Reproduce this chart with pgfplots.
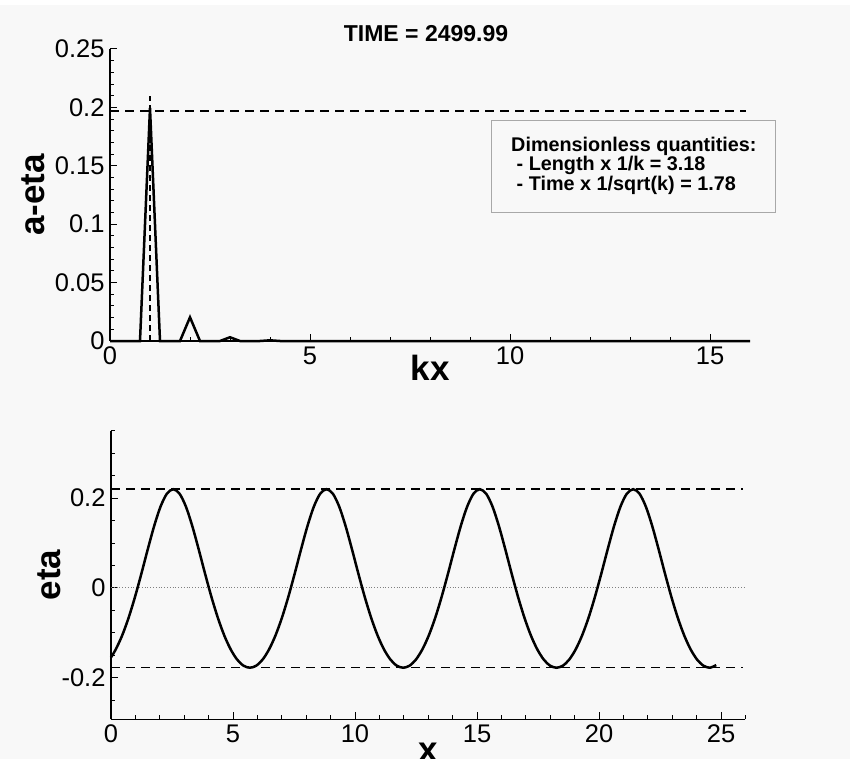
\documentclass[border=0pt]{standalone}
\usepackage{fontspec}
\setmainfont{Liberation Sans}
\usepackage{pgfplots}
\pgfplotsset{compat=1.18}
\definecolor{bg}{HTML}{F8F8F8}
\definecolor{boxgray}{HTML}{A8A8A8}

\pgfplotsset{tec/.style={
  scale only axis,
  axis x line=bottom, axis y line=left,
  axis line style={-, line width=1.6pt, black},
  tick align=inside,
  major tick length=7pt, minor tick length=4pt,
  every tick/.style={black, line width=1pt},
  minor tick num=4,
  tick label style={font=\fontsize{25.5}{27}\selectfont},
  xticklabel style={yshift=-2pt},
  yticklabel style={xshift=-2pt},
  /pgf/number format/assume math mode=true,
  scaled ticks=false,
  label style={font=\fontsize{35}{37}\selectfont\bfseries},
  clip=false,
}}

\begin{document}
\begin{tikzpicture}
\fill[white] (0pt,0pt) rectangle (850pt,-759pt);
\fill[bg] (0pt,-5pt) rectangle (850pt,-759pt);
\path[use as bounding box] (0pt,0pt) rectangle (850pt,-759pt);

% ---------- top: spectrum ----------
\begin{axis}[tec,
  at={(110pt,-341pt)}, anchor=south west,
  width=640pt, height=292pt,
  xmin=0, xmax=16, ymin=0, ymax=0.25,
  xtick={0,5,10,15}, xticklabels={0,5,10,15},
  ytick={0,0.05,0.1,0.15,0.2,0.25},
  yticklabels={0,0.05,0.1,0.15,0.2,0.25},
  xlabel={kx}, ylabel={a-eta},
  xlabel style={at={(axis description cs:0.5,-0.093)}, anchor=center},
  ylabel style={at={(axis description cs:-0.12,0.5)}, anchor=center},
]
\addplot[black, line width=1.5pt, dash pattern=on 9pt off 6pt] coordinates {(0,0.197) (15.9,0.197)};
\addplot[black, line width=1.5pt, dash pattern=on 6pt off 4pt] coordinates {(1.0,0) (1.0,0.21)};
\addplot[black, line width=2.5pt] coordinates {
(0,0) (0.25,0) (0.5,0) (0.75,0) (1.0,0.1995) (1.25,0) (1.5,0) (1.75,0)
(2.0,0.0203) (2.25,0) (2.5,0) (2.75,0) (3.0,0.0032) (3.25,0) (3.5,0) (3.75,0)
(4.0,0.0006) (4.25,0) (4.5,0) (5,0) (6,0) (8,0) (10,0) (12,0) (14,0) (16,0)};
\end{axis}

% ---------- bottom: surface elevation ----------
\begin{axis}[tec,
  at={(111pt,-719.3pt)}, anchor=south west,
  width=634.4pt, height=288.4pt,
  xmin=0, xmax=26, ymin=-0.293, ymax=0.35,
  xtick={0,5,10,15,20,25}, xticklabels={0,5,10,15,20,25},
  ytick={-0.2,0,0.2}, yticklabels={-0.2,0,0.2},
  minor ytick={-0.25,-0.15,-0.1,-0.05,0.05,0.1,0.15,0.25,0.3,0.35},
  minor xtick={1,2,3,4,6,7,8,9,11,12,13,14,16,17,18,19,21,22,23,24,26},
  xlabel={x}, ylabel={eta},
  xlabel style={at={(axis description cs:0.5,-0.113)}, anchor=center},
  ylabel style={at={(axis description cs:-0.0977,0.5)}, anchor=center},
]
\addplot[gray, line width=0.8pt, dotted] coordinates {(0,0) (26,0)};
\addplot[black, line width=1.5pt, dash pattern=on 9pt off 6pt] coordinates {(0,0.22) (25.9,0.22)};
\addplot[black, line width=1.5pt, dash pattern=on 9pt off 6pt] coordinates {(0,-0.178) (25.9,-0.178)};
\addplot[black, line width=2.5pt, smooth] coordinates {
(0,-0.155) (0.194,-0.1372) (0.456,-0.1063) (0.717,-0.0673) (0.979,-0.0210)
(1.241,0.0309) (1.503,0.0853) (1.765,0.1372) (2.026,0.1807) (2.288,0.2098)
(2.550,0.2200) (2.812,0.2098) (3.074,0.1807) (3.335,0.1372) (3.597,0.0853) (3.859,0.0309)
(4.121,-0.0210) (4.383,-0.0673) (4.644,-0.1063) (4.906,-0.1372) (5.168,-0.1597) (5.430,-0.1734)
(5.692,-0.1780) (5.953,-0.1734) (6.215,-0.1597) (6.477,-0.1372) (6.739,-0.1063) (7.001,-0.0673)
(7.262,-0.0210) (7.524,0.0309) (7.786,0.0853) (8.048,0.1372) (8.310,0.1807) (8.571,0.2098)
(8.833,0.2200) (9.095,0.2098) (9.357,0.1807) (9.618,0.1372) (9.880,0.0853) (10.142,0.0309)
(10.404,-0.0210) (10.666,-0.0673) (10.927,-0.1063) (11.189,-0.1372) (11.451,-0.1597) (11.713,-0.1734)
(11.975,-0.1780) (12.236,-0.1734) (12.498,-0.1597) (12.760,-0.1372) (13.022,-0.1063) (13.284,-0.0673)
(13.545,-0.0210) (13.807,0.0309) (14.069,0.0853) (14.331,0.1372) (14.593,0.1807) (14.854,0.2098)
(15.116,0.2200) (15.378,0.2098) (15.640,0.1807) (15.901,0.1372) (16.163,0.0853) (16.425,0.0309)
(16.687,-0.0210) (16.949,-0.0673) (17.210,-0.1063) (17.472,-0.1372) (17.734,-0.1597) (17.996,-0.1734)
(18.258,-0.1780) (18.519,-0.1734) (18.781,-0.1597) (19.043,-0.1372) (19.305,-0.1063) (19.567,-0.0673)
(19.828,-0.0210) (20.090,0.0309) (20.352,0.0853) (20.614,0.1372) (20.876,0.1807) (21.137,0.2098)
(21.400,0.2200) (21.662,0.2098) (21.924,0.1807) (22.185,0.1372) (22.447,0.0853) (22.709,0.0309)
(22.971,-0.0210) (23.233,-0.0673) (23.494,-0.1063) (23.756,-0.1372) (24.018,-0.1597) (24.280,-0.1734)
(24.542,-0.1780) (24.804,-0.1720)};
\end{axis}

% title
\node[font=\fontsize{23}{25}\selectfont\bfseries] at (426pt,-34pt) {TIME = 2499.99};

% info box
\draw[boxgray, line width=1pt, fill=bg] (491pt,-121pt) rectangle (775pt,-213pt);
\node[anchor=north west, inner sep=0pt, align=left,
      font=\fontsize{19.8}{19.5}\selectfont\bfseries] at (511pt,-136.5pt)
  {Dimensionless quantities:\\
   \ - Length x 1/k = 3.18\\
   \ - Time x 1/sqrt(k) = 1.78};
\end{tikzpicture}
\end{document}
